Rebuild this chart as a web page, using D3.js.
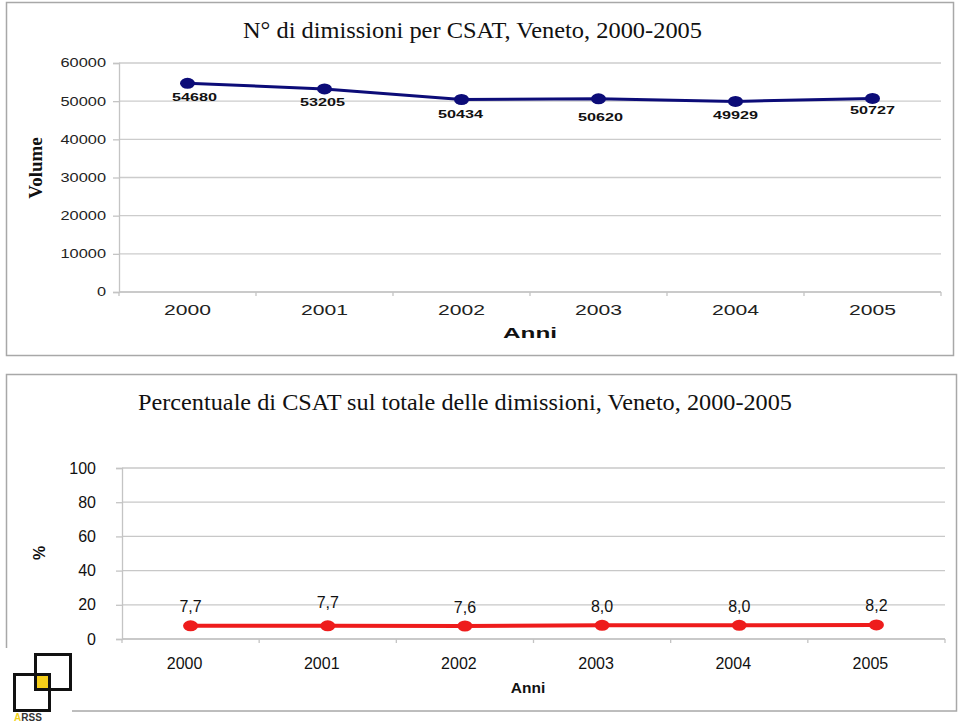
<!DOCTYPE html>
<html><head><meta charset="utf-8">
<script src="https://cdn.jsdelivr.net/npm/d3@7/dist/d3.min.js"></script>
<style>body{margin:0;background:#fff}svg{display:block}</style>
</head><body>
<svg id="c" width="960" height="722"></svg>
<script>
const years = ["2000","2001","2002","2003","2004","2005"];
const volumes = [54680, 53205, 50434, 50620, 49929, 50727];
const percentages = [7.7, 7.7, 7.6, 8.0, 8.0, 8.2];
const volumeTicks = [0, 10000, 20000, 30000, 40000, 50000, 60000];
const percentTicks = [0, 20, 40, 60, 80, 100];
const titleTop = "N° di dimissioni per CSAT, Veneto, 2000-2005";
const titleBottom = "Percentuale di CSAT sul totale delle dimissioni, Veneto, 2000-2005";

// label nudges (layout only)
const volLabelDx = [7, -2, -1, 2, 0, 0];
const volLabelDy = [14, 13, 14.5, 18, 13.5, 12];
const pctLabelDy = [-19, -23, -19, -19, -19, -20];

const svg = d3.select("#c");
const SANS = "'Liberation Sans', Arial, sans-serif";
const SERIF = "'Liberation Serif', 'Times New Roman', serif";

// ---------- panel borders ----------
svg.append("rect").attr("x",6.5).attr("y",2.5).attr("width",947).attr("height",353)
  .attr("fill","#fff").attr("stroke","#a8a8a8").attr("stroke-width",1.5);
svg.append("rect").attr("x",6.5).attr("y",374.5).attr("width",950).attr("height",336.5)
  .attr("fill","#fff").attr("stroke","#a8a8a8").attr("stroke-width",1.5);

// ================= TOP CHART =================
{
  const g = svg.append("g");
  const x = d3.scaleBand().domain(years).range([119, 941]).padding(0);
  const y = d3.scaleLinear().domain([0, 60000]).range([292, 63]);

  g.selectAll("line.grid").data(volumeTicks).join("line")
    .attr("x1",119).attr("x2",941).attr("y1",d=>y(d)).attr("y2",d=>y(d))
    .attr("stroke","#cccccc").attr("stroke-width",1.3);

  const ya = g.append("g").attr("transform","translate(119,0)")
    .call(d3.axisLeft(y).tickValues(volumeTicks).tickSize(6).tickPadding(7).tickFormat(d3.format("d")));
  ya.select(".domain").attr("stroke","#c4c4c4").attr("stroke-width",1.3);
  ya.selectAll(".tick line").attr("stroke","#c4c4c4").attr("stroke-width",1.3);
  ya.selectAll("text").attr("font-family",SANS).attr("font-size",12).attr("fill","#222")
    .attr("textLength",d=>String(d).length*9.1).attr("lengthAdjust","spacingAndGlyphs");

  const xa = g.append("g").attr("transform","translate(0,292)")
    .call(d3.axisBottom(x).tickSize(0).tickPadding(0));
  xa.select(".domain").attr("stroke","#c4c4c4").attr("stroke-width",1.3).attr("d","M119,0H941");
  xa.selectAll("text").attr("font-family",SANS).attr("font-size",14).attr("fill","#222")
    .attr("y",18).attr("dy","0.35em")
    .attr("textLength",d=>d.length*11.75).attr("lengthAdjust","spacingAndGlyphs");
  g.selectAll("line.xt").data(d3.range(years.length+1)).join("line")
    .attr("x1",i=>x.range()[0]+i*x.step()).attr("x2",i=>x.range()[0]+i*x.step())
    .attr("y1",292).attr("y2",296).attr("stroke","#c4c4c4").attr("stroke-width",1.3);

  const cx = (d,i)=>x(years[i])+x.bandwidth()/2;
  g.append("path").datum(volumes)
    .attr("d", d3.line().x(cx).y(d=>y(d)))
    .attr("fill","none").attr("stroke","#0c0c78").attr("stroke-width",3);
  g.selectAll("ellipse.m").data(volumes).join("ellipse")
    .attr("cx",cx).attr("cy",d=>y(d)).attr("rx",7.5).attr("ry",5.5).attr("fill","#0c0c78");

  g.selectAll("text.lab").data(volumes).join("text")
    .attr("x",(d,i)=>cx(d,i)+volLabelDx[i]).attr("y",(d,i)=>y(d)+volLabelDy[i])
    .attr("dy","0.35em").attr("text-anchor","middle")
    .attr("font-family",SANS).attr("font-weight","bold").attr("font-size",11).attr("fill","#111")
    .attr("textLength",d=>String(d).length*9).attr("lengthAdjust","spacingAndGlyphs")
    .text(d=>d);

  g.append("text").attr("x",472.5).attr("y",38).attr("text-anchor","middle")
    .attr("font-family",SERIF).attr("font-size",23).attr("fill","#111")
    .attr("textLength",459).attr("lengthAdjust","spacingAndGlyphs").text(titleTop);
  g.append("text").attr("transform","translate(42,168) rotate(-90)").attr("text-anchor","middle")
    .attr("font-family",SERIF).attr("font-weight","bold").attr("font-size",19).attr("fill","#111").text("Volume");
  g.append("text").attr("x",530).attr("y",333).attr("dy","0.35em").attr("text-anchor","middle")
    .attr("font-family",SANS).attr("font-weight","bold").attr("font-size",14.5).attr("fill","#111")
    .attr("textLength",54).attr("lengthAdjust","spacingAndGlyphs").text("Anni");
}

// ================= BOTTOM CHART =================
{
  const g = svg.append("g");
  const x = d3.scaleBand().domain(years).range([122, 945]).padding(0);
  const y = d3.scaleLinear().domain([0, 100]).range([639, 468]);

  g.selectAll("line.grid").data(percentTicks).join("line")
    .attr("x1",122).attr("x2",945).attr("y1",d=>y(d)).attr("y2",d=>y(d))
    .attr("stroke","#c8c8c8").attr("stroke-width",1.3);

  const ya = g.append("g").attr("transform","translate(122,0)")
    .call(d3.axisLeft(y).tickValues(percentTicks).tickSize(6).tickPadding(20));
  ya.select(".domain").attr("stroke","#c4c4c4").attr("stroke-width",1.3);
  ya.selectAll(".tick line").attr("stroke","#c4c4c4").attr("stroke-width",1.3);
  ya.selectAll("text").attr("font-family",SANS).attr("font-size",16).attr("fill","#111");

  const xa = g.append("g").attr("transform","translate(0,639)")
    .call(d3.axisBottom(x).tickSize(0).tickPadding(0));
  xa.select(".domain").attr("stroke","#c4c4c4").attr("stroke-width",1.3).attr("d","M122,0H945");
  xa.selectAll("text").attr("font-family",SANS).attr("font-size",16).attr("fill","#111")
    .attr("x",-6).attr("y",24).attr("dy","0.35em");
  g.selectAll("line.xt").data(d3.range(years.length+1)).join("line")
    .attr("x1",i=>x.range()[0]+i*x.step()).attr("x2",i=>x.range()[0]+i*x.step())
    .attr("y1",639).attr("y2",643).attr("stroke","#c4c4c4").attr("stroke-width",1.3);

  const cx = (d,i)=>x(years[i])+x.bandwidth()/2;
  g.append("path").datum(percentages)
    .attr("d", d3.line().x(cx).y(d=>y(d)))
    .attr("fill","none").attr("stroke","#ee1c1c").attr("stroke-width",4);
  g.selectAll("ellipse.m").data(percentages).join("ellipse")
    .attr("cx",cx).attr("cy",d=>y(d)).attr("rx",7.5).attr("ry",5.5).attr("fill","#ee1c1c");

  const fmt = v => d3.format(".1f")(v).replace(".", ",");
  g.selectAll("text.lab").data(percentages).join("text")
    .attr("x",cx).attr("y",(d,i)=>y(d)+pctLabelDy[i]).attr("dy","0.35em").attr("text-anchor","middle")
    .attr("font-family",SANS).attr("font-size",16).attr("fill","#111").text(fmt);

  g.append("text").attr("x",465).attr("y",410).attr("text-anchor","middle")
    .attr("font-family",SERIF).attr("font-size",23).attr("fill","#111")
    .attr("textLength",654).attr("lengthAdjust","spacingAndGlyphs").text(titleBottom);
  g.append("text").attr("transform","translate(39,553) rotate(-90)").attr("dy","0.35em").attr("text-anchor","middle")
    .attr("font-family",SANS).attr("font-weight","bold").attr("font-size",16).attr("fill","#111").text("%");
  g.append("text").attr("x",528).attr("y",688).attr("dy","0.35em").attr("text-anchor","middle")
    .attr("font-family",SANS).attr("font-weight","bold").attr("font-size",15.5).attr("fill","#111").text("Anni");
}

// ================= LOGO =================
{
  const g = svg.append("g");
  g.append("rect").attr("x",0).attr("y",648).attr("width",72).attr("height",74).attr("fill","#fff");
  g.append("rect").attr("x",35).attr("y",674).attr("width",15).attr("height",16).attr("fill","#f6cf1a");
  g.append("rect").attr("x",35.5).attr("y",654.5).attr("width",35).attr("height",35)
    .attr("fill","none").attr("stroke","#111").attr("stroke-width",3);
  g.append("rect").attr("x",14.5).attr("y",674.5).attr("width",35).attr("height",36)
    .attr("fill","none").attr("stroke","#111").attr("stroke-width",3);
  const t = g.append("text").attr("x",14).attr("y",720.5).attr("font-family",SANS)
    .attr("font-weight","bold").attr("font-size",10);
  t.append("tspan").attr("fill","#f2d21a").text("A");
  t.append("tspan").attr("fill","#333").text("RSS");
}
</script>
</body></html>
